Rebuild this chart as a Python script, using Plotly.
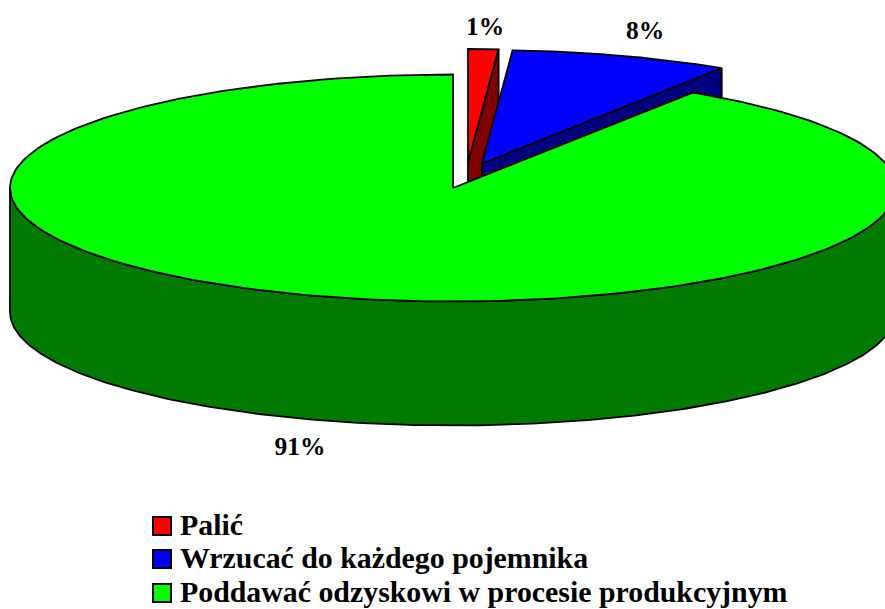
import numpy as np
import plotly.graph_objects as go

# ---- data ----
categories = ["Palić", "Wrzucać do każdego pojemnika", "Poddawać odzyskowi w procesie produkcyjnym"]
values = [1.1, 8.0, 90.9]
top_colors = ["#ff0000", "#0000ff", "#00ff00"]
side_colors = ["#800000", "#000080", "#007a00"]

# ---- pie geometry (page pixels) ----
W, H = 885, 609
RX, RY, DEPTH = 443, 113.5, 124
apexes = [(468, 162.5), (482, 163.5), (453, 188)]
label_xy = [(485, 29), (645, 33), (300, 449)]
legend_x, legend_text_x = 162, 180
legend_y = [526, 559, 593]
text_y = [528, 561, 595]
FONT = "Liberation Serif"
INK = "#000000"


def rim(cx, cy, a0, a1, n=240):
    t = np.radians(np.linspace(a0, a1, n))
    return cx + RX * np.sin(t), cy - RY * np.cos(t)


def poly(fig, x, y, color):
    fig.add_trace(go.Scatter(
        x=list(x) + [x[0]], y=list(y) + [y[0]], mode="lines", fill="toself",
        fillcolor=color, line=dict(color=INK, width=1.8),
        hoverinfo="skip", showlegend=False,
    ))


fig = go.Figure()
total = sum(values)
start = 0.0
for i, v in enumerate(values):
    end = start + 360.0 * v / total
    cx, cy = apexes[i]
    rx, ry = rim(cx, cy, start, end)
    # inner wall seen from the front: radius at the end of the slice, extruded
    if end < 90:
        wx = [rx[-1], cx, cx, rx[-1]]
        wy = [ry[-1], cy, cy + DEPTH, ry[-1] + DEPTH]
        poly(fig, wx, wy, side_colors[i])
    # outer wall: the part of the rim that faces the viewer
    a0, a1 = max(start, 90.0), min(end, 270.0)
    if a1 > a0:
        ox, oy = rim(cx, cy, a0, a1)
        poly(fig, np.r_[ox, ox[::-1]], np.r_[oy, oy[::-1] + DEPTH], side_colors[i])
    # top surface
    poly(fig, np.r_[cx, rx], np.r_[cy, ry], top_colors[i])
    start = end

# percentage labels
fig.add_trace(go.Scatter(
    x=[p[0] for p in label_xy], y=[p[1] for p in label_xy], mode="text",
    text=[f"{round(v)}%" for v in values], textposition="middle center",
    textfont=dict(family=FONT, size=25.5, color=INK, weight="bold"),
    hoverinfo="skip", showlegend=False,
))

# legend
fig.add_trace(go.Scatter(
    x=[legend_x] * 3, y=legend_y, mode="markers",
    marker=dict(symbol="square", size=18, color=top_colors, line=dict(color=INK, width=2)),
    hoverinfo="skip", showlegend=False,
))
fig.add_trace(go.Scatter(
    x=[legend_text_x] * 3, y=text_y, mode="text", text=categories,
    textposition="middle right",
    textfont=dict(family=FONT, size=29.85, color=INK, weight="bold"),
    hoverinfo="skip", showlegend=False,
))

fig.update_layout(
    width=W, height=H, margin=dict(l=0, r=0, t=0, b=0),
    paper_bgcolor="white", plot_bgcolor="white", showlegend=False,
    xaxis=dict(range=[0, W], visible=False, fixedrange=True),
    yaxis=dict(range=[H, 0], visible=False, fixedrange=True),
)
fig.write_html(
    "out.html", config={"displayModeBar": False},
    post_script="document.body.style.margin='0';document.body.style.overflow='hidden';",
)
